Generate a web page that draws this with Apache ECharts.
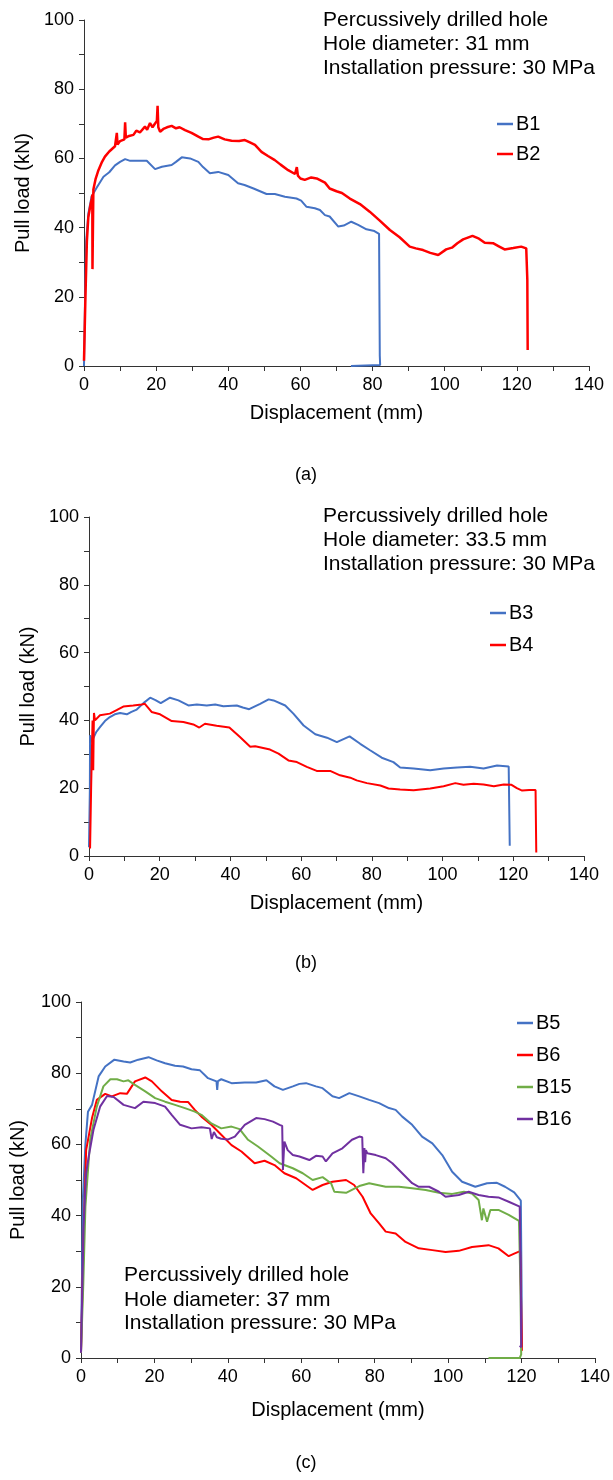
<!DOCTYPE html>
<html>
<head>
<meta charset="utf-8">
<title>Pull load vs displacement</title>
<script src="https://cdn.jsdelivr.net/npm/echarts@6/dist/echarts.min.js"></script>
<style>
  html, body { margin: 0; padding: 0; background: #fff; }
  #chart { width: 613px; height: 1480px; }
</style>
</head>
<body>
<div id="chart"></div>
<script>
// 数据：[位移 mm, 拉力 kN]
const b1 = [[0,0],[0.3,20],[0.6,36],[1.2,44],[2.1,49],[3.5,51.5],[5.4,54.7],[7,56],[8.6,58],[10,59],[11.4,59.8],[12.8,59.3],[15,59.3],[17.4,59.3],[19.7,56.9],[21.6,57.6],[24.3,58.1],[25.5,59],[27.1,60.3],[29.4,60],[31.7,59],[33,57.5],[34.9,55.7],[37.2,56.1],[40,55.2],[42.7,52.8],[44.5,52.3],[47,51.3],[50.6,49.7],[52.9,49.7],[55.7,48.9],[58.9,48.4],[60.2,47.8],[61.7,46],[64,45.6],[65.4,45.1],[66.8,43.6],[68.1,43.2],[70.5,40.3],[72,40.6],[74.1,41.7],[76,40.8],[78.3,39.5],[80.5,39],[81.8,38.2],[82,3],[82.1,0.3],[74,0]]
const b2 = [[0,1.5],[0.4,20],[0.8,36],[1.2,43],[1.7,46],[2.2,48.5],[2.3,49.5],[2.35,28],[2.55,28],[2.6,51],[3.2,54],[4,56.6],[5,59],[5.8,60.5],[7,62],[8.6,63.5],[9,64],[9.1,67.4],[9.3,64],[10,65],[11.2,65.5],[11.4,70.4],[11.6,66],[12.5,66.5],[13.7,66.8],[14.5,68],[15.5,67.5],[16.9,69.2],[17.5,68.3],[18.3,70.2],[19,69],[19.7,70.1],[20.2,70.8],[20.4,75.2],[20.6,69],[21.1,67.7],[22,68.5],[23,69],[24.3,69.4],[25.5,68.7],[26.5,69],[28,68.2],[29.8,67.4],[31.7,66.3],[33,65.6],[34.5,65.5],[36,66],[37.2,66.3],[39,65.5],[40.9,65.1],[43,65],[44.6,65.3],[46,64.6],[47.4,63.9],[49.2,61.9],[51,60.7],[52.9,59.5],[54.5,58.2],[56.6,56.6],[58.5,55.5],[59,57.5],[59.3,55],[60,54.2],[61.2,53.8],[63,54.5],[64.5,54.2],[66.8,53],[68.1,51.3],[70,50.5],[71.5,50],[73.7,48.4],[76.5,46.8],[79.2,44.6],[82,42],[84.8,39.3],[87.5,37.2],[90.3,34.5],[92,34],[94,33.5],[96,32.7],[98.2,32.1],[100.4,33.7],[102,34.2],[103.5,35.5],[105.1,36.6],[107.7,37.6],[109.5,36.8],[111.1,35.6],[113.4,35.5],[115,34.6],[116.6,33.7],[119,34.1],[121.2,34.5],[122.6,34],[122.9,25],[123,4.6]]
const b3 = [[0,2.6],[0.25,20],[0.3,35.6],[0.5,35],[0.7,33.6],[1,34.1],[2,36.5],[3.1,38],[4.5,39.8],[5.9,41],[7.3,41.8],[8.8,42.2],[10.7,41.8],[12,42.5],[13.5,43.2],[15.4,45.1],[17.3,46.7],[18.8,46],[20.3,45.1],[22.9,46.7],[25.3,45.9],[28.1,44.4],[30.5,44.7],[33.3,44.4],[35.7,44.7],[38,44.2],[41.8,44.4],[43.5,43.8],[45.3,43.3],[48.4,44.9],[50.8,46.2],[52.2,45.9],[55.5,44.4],[57.8,42],[60.7,38.5],[64,35.9],[67.3,34.9],[70.1,33.6],[73.7,35.3],[76.7,33.1],[79.5,31.2],[82.8,29],[86.1,27.7],[88,26.1],[91.8,25.8],[96.5,25.3],[100.3,25.8],[104.1,26.1],[107.8,26.3],[111.6,25.8],[115.4,26.7],[118.7,26.4],[119,3]]
const b4 = [[0.3,2.2],[0.6,20],[1,40],[1.15,40],[1.2,25.3],[1.35,25.3],[1.4,42.2],[1.7,40],[3.1,41.5],[3.6,42],[5.9,42],[7.8,43],[9.7,44.1],[12.5,44.4],[14.9,44.7],[15.8,44.9],[17.7,42.5],[20.1,41.8],[23.4,39.8],[26.7,39.5],[29.5,38.8],[31.2,37.9],[32.8,39],[36.1,38.4],[39.7,37.9],[42.7,35.1],[45.6,32.2],[47,32.4],[51.2,31.4],[53.6,30.2],[56.4,28.2],[58.8,27.7],[61.6,26.3],[64.4,25.1],[68.2,25.1],[71,23.8],[73.9,23.1],[75.7,22.3],[78.6,21.5],[82.4,20.8],[84.7,19.9],[88,19.6],[91.8,19.4],[96.5,19.9],[100.3,20.6],[103.6,21.5],[105.9,21],[108.8,21.3],[111.6,21.1],[114.5,20.6],[117.3,21.1],[119.5,21],[121,20],[122.5,19.3],[124.5,19.5],[126.3,19.5],[126.5,1]]
const b5 = [[0,1.5],[0.3,25],[0.5,44.4],[1.2,60],[1.9,69.2],[3,71.1],[4.8,79.1],[6.6,81.9],[9.1,83.8],[11.6,83.3],[13.4,83],[15.6,83.8],[18.4,84.5],[20.6,83.6],[22.9,82.8],[25.6,82.1],[27.8,81.9],[30.1,81.1],[32.4,80.8],[34.6,78.6],[36.9,77.7],[37.1,75.3],[37.3,77.8],[38.2,78.3],[41,77.2],[44.6,77.4],[47.7,77.4],[50.5,78],[52.7,76.3],[55,75.3],[57.7,76.3],[59.5,77],[61.3,77.2],[64,76.3],[65.8,75.8],[68.5,73.5],[70.3,73],[73.1,74.4],[75.8,73.5],[78.5,72.5],[81.2,71.6],[83.9,70.2],[85.7,69.7],[87.5,67.8],[90.2,65.5],[92.9,62.2],[95.7,60.3],[98.4,57],[101.1,52.3],[103.8,49.5],[107.4,48.1],[110.6,49.1],[113.3,49.2],[115.5,48.1],[118,46.5],[119.8,44.2],[120,20],[120.1,3]]
const b6 = [[0,1.5],[0.7,33.1],[1.4,58.4],[3,67.4],[4.3,72.5],[6.6,74.2],[8.4,73.5],[10.7,74.4],[12.5,74.2],[14.7,77.7],[17.5,78.8],[19.3,77.7],[22,74.9],[24.7,72.5],[27,72],[29.2,71.9],[31,69.7],[32.8,67.8],[35.5,65.5],[38.2,62.7],[41,59.8],[43.7,58],[47.3,54.7],[50,55.4],[52.7,54.2],[55.4,51.9],[58.6,50.5],[63.1,47.2],[65.8,48.6],[68.5,49.5],[72.2,50],[74.4,48.6],[76.7,45.3],[78.9,40.6],[81.2,37.8],[83,35.5],[85.7,35],[88.4,32.6],[92,30.8],[95.7,30.3],[99.3,29.8],[102.9,30.1],[106.5,31.2],[111,31.7],[113.7,30.8],[116.5,28.6],[118,29.3],[119.6,30],[119.9,15],[120.1,2]]
const b15 = [[0,1.5],[0.6,20],[1.2,42.5],[2.5,61.3],[4.3,70.6],[6.1,76.3],[8,78.3],[9.8,78.3],[11.6,77.7],[12.9,78],[14.7,76.7],[17.5,74.9],[20.2,73],[22.9,72],[25.6,71.1],[28.3,70.2],[31,69.2],[32.8,68.3],[35.5,65.9],[38.2,64.5],[41,65],[43.2,64.3],[45.5,61.3],[48.2,59.4],[51.8,56.6],[54.1,54.7],[57.7,53.3],[60.4,51.9],[63.1,50],[65.8,50.8],[68.1,49.1],[69,46.7],[72.2,46.4],[75.8,48.3],[78.5,49.1],[83,48.1],[86.6,48.1],[90.2,47.7],[93.9,47.2],[97.5,46.4],[101.1,46.1],[104.3,46.7],[106.5,46.2],[108.3,44.4],[109.2,38.7],[109.6,42],[110.6,38.3],[111.5,41.6],[113.7,41.6],[116.5,40.2],[119.3,38.5],[119.7,20],[119.9,1],[119.5,0],[111,0]]
const b16 = [[0,1.5],[0.7,36.9],[1.4,51.9],[2.1,56.6],[3.4,64.1],[5.2,70.6],[7.1,73.6],[8.9,73.3],[11.6,71.1],[14.7,70.2],[17,72],[20.2,71.6],[22.9,70.6],[24.7,68.3],[27,65.5],[30.1,64.5],[32.8,64.8],[35.1,64.5],[35.6,61.5],[36.2,63.5],[37,62],[38.2,61.6],[40.1,61.4],[41.9,62.2],[44.6,65.5],[47.7,67.4],[50,67.1],[52.3,66.4],[54.1,65.5],[54.8,65.2],[55,52.8],[55.4,60.8],[56.3,58.4],[57.7,57],[59.5,56.6],[62.2,55.6],[64,56.8],[65.8,56.6],[66.7,55.2],[68.5,57.5],[71.2,58.9],[73.8,61.3],[75.8,62.2],[76.6,62],[76.9,51.9],[77.2,59],[77.4,55],[77.6,58.4],[78,57.5],[80.3,57],[83,56.1],[84.8,54.7],[87.5,51.9],[90.2,49.1],[92,48.1],[94.8,48.1],[97.5,46.7],[99.3,45.3],[102.9,45.8],[105.6,46.7],[108.3,45.8],[111,45.3],[113.7,45.1],[116.5,43.9],[119.5,42.5],[119.8,20],[119.9,3],[119.5,3.5]]

const panelNotes = [
  ['Percussively drilled hole', 'Hole diameter: 31 mm', 'Installation pressure: 30 MPa'],
  ['Percussively drilled hole', 'Hole diameter: 33.5 mm', 'Installation pressure: 30 MPa'],
  ['Percussively drilled hole', 'Hole diameter: 37 mm', 'Installation pressure: 30 MPa']
]
const captions = ['(a)', '(b)', '(c)']

const BLUE = '#4472C4'
const RED = '#FF0000'
const GREEN = '#70AD47'
const PURPLE = '#7030A0'
const FONT = "'Liberation Sans', Arial, sans-serif"
const AXIS_COLOR = '#333'

// 三个子图的绘图区
const grids = [
  { left: 84, top: 20, width: 505, height: 346 },
  { left: 89, top: 517, width: 495, height: 339 },
  { left: 81, top: 1002, width: 516, height: 356 }
]
const yNameGap = [46, 50, 53]
const xNameGap = [37, 37, 42]

function xAxis(i) {
  return {
    type: 'value',
    gridIndex: i,
    min: 0,
    max: 140,
    interval: 20,
    name: 'Displacement (mm)',
    nameLocation: 'middle',
    nameGap: xNameGap[i],
    nameTextStyle: { fontSize: 20, color: '#000', fontFamily: FONT },
    axisLine: { show: true, onZero: false, lineStyle: { color: AXIS_COLOR, width: 1 } },
    axisTick: { show: true, inside: false, length: 5, lineStyle: { color: AXIS_COLOR } },
    minorTick: { show: true, splitNumber: 2, length: 5, lineStyle: { color: AXIS_COLOR } },
    axisLabel: { fontSize: 18, color: '#000', fontFamily: FONT, margin: 10 },
    splitLine: { show: false }
  }
}

function yAxis(i) {
  return {
    type: 'value',
    gridIndex: i,
    min: 0,
    max: 100,
    interval: 20,
    name: 'Pull load (kN)',
    nameLocation: 'middle',
    nameGap: yNameGap[i],
    nameTextStyle: { fontSize: 20, color: '#000', fontFamily: FONT },
    axisLine: { show: true, onZero: false, lineStyle: { color: AXIS_COLOR, width: 1 } },
    axisTick: { show: true, inside: false, length: 5, lineStyle: { color: AXIS_COLOR } },
    minorTick: { show: true, splitNumber: 2, length: 5, lineStyle: { color: AXIS_COLOR } },
    axisLabel: { fontSize: 18, color: '#000', fontFamily: FONT, margin: 10 },
    splitLine: { show: false }
  }
}

function line(name, data, color, i, width) {
  return {
    name: name,
    type: 'line',
    xAxisIndex: i,
    yAxisIndex: i,
    data: data,
    showSymbol: false,
    symbol: 'none',
    lineStyle: { color: color, width: width || 2 },
    itemStyle: { color: color },
    z: 3
  }
}

function legend(names, left, top, gap) {
  return {
    orient: 'vertical',
    left: left,
    top: top,
    data: names,
    icon: 'rect',
    itemWidth: 16,
    itemHeight: 2.5,
    itemGap: gap,
    padding: 0,
    textStyle: { fontSize: 20, color: '#000', fontFamily: FONT, lineHeight: 20, padding: [0, 0, 0, -2] }
  }
}

function noteText(lines, left, centers) {
  return lines.map((t, k) => ({
    type: 'text',
    left: left,
    top: centers[k] - 12,
    style: { text: t, fontSize: 21, fill: '#000', fontFamily: FONT }
  }))
}

const graphics = []
  .concat(noteText(panelNotes[0], 323, [21.5, 46, 70]))
  .concat(noteText(panelNotes[1], 323, [518, 542, 566]))
  .concat(noteText(panelNotes[2], 124, [1277, 1302, 1325]))
  .concat([
    { type: 'text', x: 306, y: 475, style: { text: captions[0], fontSize: 18, fill: '#000', fontFamily: FONT, align: 'center', verticalAlign: 'middle' } },
    { type: 'text', x: 306, y: 963, style: { text: captions[1], fontSize: 18, fill: '#000', fontFamily: FONT, align: 'center', verticalAlign: 'middle' } },
    { type: 'text', x: 306, y: 1463, style: { text: captions[2], fontSize: 18, fill: '#000', fontFamily: FONT, align: 'center', verticalAlign: 'middle' } }
  ])

const option = {
  animation: false,
  backgroundColor: '#fff',
  grid: grids,
  xAxis: [xAxis(0), xAxis(1), xAxis(2)],
  yAxis: [yAxis(0), yAxis(1), yAxis(2)],
  legend: [
    legend(['B1', 'B2'], 497, 114, 10),
    legend(['B3', 'B4'], 490, 603, 12),
    legend(['B5', 'B6', 'B15', 'B16'], 517, 1013, 12)
  ],
  graphic: graphics,
  series: [
    line('B1', b1, BLUE, 0),
    line('B2', b2, RED, 0, 2.5),
    line('B3', b3, BLUE, 1),
    line('B4', b4, RED, 1),
    line('B5', b5, BLUE, 2),
    line('B6', b6, RED, 2),
    line('B15', b15, GREEN, 2),
    line('B16', b16, PURPLE, 2)
  ]
}

const myChart = echarts.init(document.getElementById('chart'), null, { renderer: 'canvas' })
myChart.setOption(option)
</script>
</body>
</html>
